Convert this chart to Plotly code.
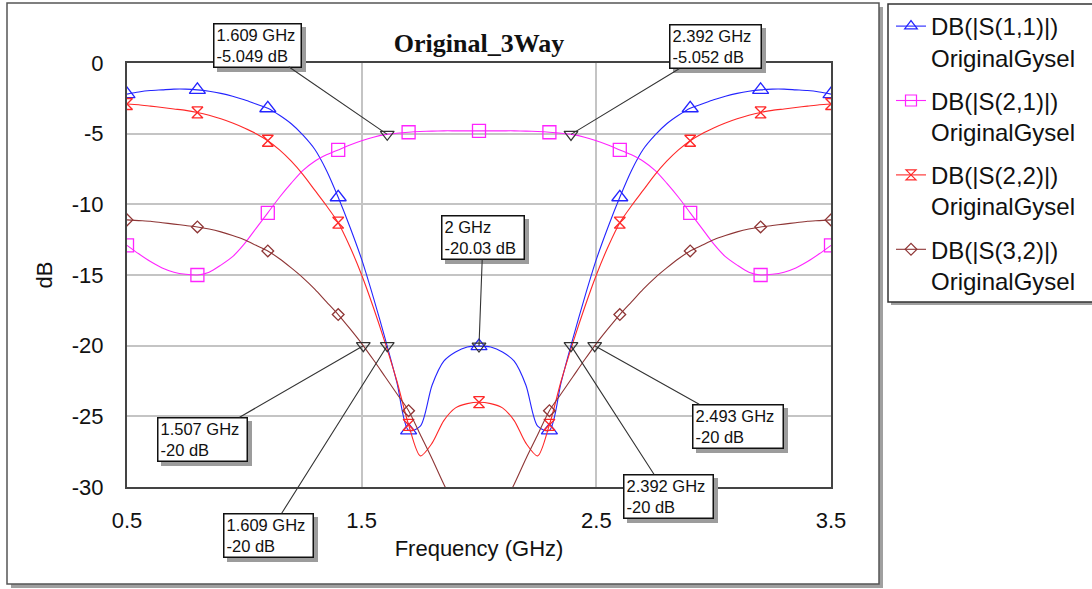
import plotly.graph_objects as go

# ---------------- data ----------------
freq = [0.5, 0.55, 0.6, 0.65, 0.7, 0.75, 0.8, 0.85, 0.9, 0.95,
        1.0, 1.05, 1.1, 1.15, 1.2, 1.25, 1.3, 1.35, 1.4, 1.45,
        1.5, 1.55, 1.6, 1.65, 1.7, 1.75, 1.8, 1.85, 1.9, 1.95,
        2.0, 2.05, 2.1, 2.15, 2.2, 2.25, 2.3, 2.35, 2.4, 2.45,
        2.5, 2.55, 2.6, 2.65, 2.7, 2.75, 2.8, 2.85, 2.9, 2.95,
        3.0, 3.05, 3.1, 3.15, 3.2, 3.25, 3.3, 3.35, 3.4, 3.45, 3.5]

s11_db = [-2.2, -2.05, -1.95, -1.9, -1.85, -1.85, -1.9, -2.0, -2.15, -2.35,
          -2.6, -2.9, -3.2, -3.7, -4.3, -5.1, -6.1, -7.6, -9.5, -11.6,
          -13.9, -16.6, -19.5, -22.6, -26.0, -25.7, -22.8, -21.1, -20.45, -20.1,
          -20.03, -20.1, -20.45, -21.1, -22.8, -25.7, -26.0, -22.6, -19.5, -16.6,
          -13.9, -11.6, -9.5, -7.6, -6.1, -5.1, -4.3, -3.7, -3.2, -2.9,
          -2.6, -2.35, -2.15, -2.0, -1.9, -1.85, -1.85, -1.9, -1.95, -2.05, -2.2]

s21_db = [-12.9, -13.5, -14.05, -14.5, -14.8, -14.95, -15.0, -14.8, -14.3, -13.7,
          -12.8, -11.7, -10.6, -9.5, -8.5, -7.6, -6.95, -6.5, -6.15, -5.8,
          -5.5, -5.25, -5.07, -4.97, -4.9, -4.85, -4.82, -4.8, -4.8, -4.8,
          -4.8, -4.8, -4.8, -4.8, -4.82, -4.85, -4.9, -4.97, -5.07, -5.25,
          -5.5, -5.8, -6.15, -6.5, -6.95, -7.6, -8.5, -9.5, -10.6, -11.7,
          -12.8, -13.7, -14.3, -14.8, -15.0, -14.95, -14.8, -14.5, -14.05, -13.5, -12.9]

s22_db = [-2.9, -2.95, -3.05, -3.15, -3.25, -3.35, -3.5, -3.7, -3.95, -4.25,
          -4.6, -5.0, -5.5, -6.15, -6.95, -7.9, -9.0, -10.1, -11.3, -13.0,
          -15.0, -17.3, -19.8, -22.5, -25.6, -27.8, -26.9, -25.3, -24.4, -24.1,
          -24.0, -24.1, -24.4, -25.3, -26.9, -27.8, -25.6, -22.5, -19.8, -17.3,
          -15.0, -13.0, -11.3, -10.1, -9.0, -7.9, -6.95, -6.15, -5.5, -5.0,
          -4.6, -4.25, -3.95, -3.7, -3.5, -3.35, -3.25, -3.15, -3.05, -2.95, -2.9]

s32_db = [-11.1, -11.15, -11.2, -11.3, -11.4, -11.5, -11.6, -11.75, -11.95, -12.2,
          -12.5, -12.9, -13.3, -13.85, -14.5, -15.2, -16.0, -16.9, -17.8, -18.8,
          -19.85, -21.0, -22.2, -23.4, -24.6, -26.3, -28.0, -29.8, -31.4, -32.5,
          -33.0, -32.5, -31.4, -29.8, -28.0, -26.3, -24.6, -23.4, -22.2, -21.0,
          -19.85, -18.8, -17.8, -16.9, -16.0, -15.2, -14.5, -13.85, -13.3, -12.9,
          -12.5, -12.2, -11.95, -11.75, -11.6, -11.5, -11.4, -11.3, -11.2, -11.15, -11.1]

series_names = ["DB(|S(1,1)|)<br>OriginalGysel", "DB(|S(2,1)|)<br>OriginalGysel",
                "DB(|S(2,2)|)<br>OriginalGysel", "DB(|S(3,2)|)<br>OriginalGysel"]

# marker read-outs
mk_freq = [1.609, 2.392, 2.0, 1.507, 1.609, 2.392, 2.493]
mk_db = [-5.049, -5.052, -20.03, -20, -20, -20, -20]
mk_text = ["1.609 GHz<br>-5.049 dB", "2.392 GHz<br>-5.052 dB", "2 GHz<br>-20.03 dB",
           "1.507 GHz<br>-20 dB", "1.609 GHz<br>-20 dB", "2.392 GHz<br>-20 dB",
           "2.493 GHz<br>-20 dB"]

x_ticks = [0.5, 1.5, 2.5, 3.5]
x_tick_labels = ["0.5", "1.5", "2.5", "3.5"]
y_ticks = [0, -5, -10, -15, -20, -25, -30]
y_tick_labels = ["0", "-5", "-10", "-15", "-20", "-25", "-30"]

# ---------------- layout geometry (pixels) ----------------
W, H = 1092, 589
PL, PR, PT, PB = 127, 831, 63, 487


def px(xp):
    return (xp - PL) / (PR - PL)


def py(yp):
    return (PB - yp) / (PB - PT)


SANS = "Liberation Sans, Arial, sans-serif"
SERIF = "Liberation Serif, Times New Roman, serif"

styles = [
    dict(color="#2424ff", symbol="triangle-up-open", size=14, lsize=11),
    dict(color="#ff24ff", symbol="square-open", size=13, lsize=11),
    dict(color="#ff2828", symbol="hourglass-open", size=11, lsize=10),
    dict(color="#8e3535", symbol="diamond-open", size=9, lsize=9),
]
values = [s11_db, s21_db, s22_db, s32_db]
STEP = 6  # symbols every 0.3 GHz

fig = go.Figure()
for i, (vals, name, st) in enumerate(zip(values, series_names, styles)):
    grp = f"g{i}"
    fig.add_trace(go.Scatter(
        x=freq, y=vals, mode="lines", showlegend=False, legendgroup=grp,
        line=dict(color=st["color"], width=1.1, shape="spline", smoothing=0.8),
        hoverinfo="x+y",
    ))
    fig.add_trace(go.Scatter(
        x=freq[::STEP], y=vals[::STEP], mode="markers", showlegend=False, legendgroup=grp,
        marker=dict(symbol=st["symbol"], size=st["size"], color=st["color"],
                    line=dict(color=st["color"], width=1.3)),
        hoverinfo="x+y",
    ))
    # legend entry
    fig.add_trace(go.Scatter(
        x=[None], y=[None], mode="lines+markers", name=name, legendgroup=grp,
        line=dict(color=st["color"], width=1.1),
        marker=dict(symbol=st["symbol"], size=st["lsize"], color=st["color"],
                    line=dict(color=st["color"], width=1.2)),
    ))

fig.add_trace(go.Scatter(
    x=mk_freq, y=mk_db, mode="markers", showlegend=False,
    marker=dict(symbol="triangle-down-open", size=12, color="#333333",
                line=dict(color="#333333", width=1.2)),
    hoverinfo="skip",
))

# annotation box centres and inner sizes (pixels) for each read-out
box_cx = [257, 715, 483, 202, 268, 668, 738]
box_cy = [45, 47, 238, 439, 535, 496, 426]
box_w = [82, 86, 77, 84, 84, 84, 85]
BOX_H = 38

annotations = []
for fx, dbv, txt, bx, by, bw in zip(mk_freq, mk_db, mk_text, box_cx, box_cy, box_w):
    ptx = PL + (fx - 0.5) / 3.0 * (PR - PL)
    pty = PT + (-dbv) / 30.0 * (PB - PT)
    ax, ay = bx - ptx, by - pty
    common = dict(x=fx, y=dbv, xref="x", yref="y", align="left", valign="middle",
                  showarrow=True, arrowhead=0, ax=ax, ay=ay, borderpad=2,
                  borderwidth=1.5, width=bw, height=BOX_H)
    # drop shadow (empty box)
    annotations.append(dict(common, text=" ", font=dict(family=SANS, size=16.5, color="#9c9c9c"),
                            bgcolor="#9c9c9c", bordercolor="#9c9c9c",
                            arrowcolor="rgba(0,0,0,0)", xshift=4, yshift=-4))
    annotations.append(dict(common, text=txt, font=dict(family=SANS, size=16.5, color="#111111"),
                            bgcolor="white", bordercolor="#111111",
                            arrowcolor="#333333", arrowwidth=1.1))

shapes = [
    # chart frame shadow + frame
    dict(type="rect", xref="paper", yref="paper", layer="below",
         x0=px(11), x1=px(883), y0=py(588), y1=py(7),
         fillcolor="#a0a0a0", line=dict(width=0)),
    dict(type="rect", xref="paper", yref="paper", layer="below",
         x0=px(7), x1=px(879), y0=py(584), y1=py(3),
         fillcolor="white", line=dict(color="#555555", width=1.5)),
    # legend box shadow + box
    dict(type="rect", xref="paper", yref="paper", layer="below",
         x0=px(891), x1=px(1110), y0=py(305), y1=py(7),
         fillcolor="#a0a0a0", line=dict(width=0)),
    dict(type="rect", xref="paper", yref="paper", layer="below",
         x0=px(888), x1=px(1110), y0=py(302), y1=py(4),
         fillcolor="white", line=dict(color="#333333", width=1.5)),
]

fig.update_layout(
    width=W, height=H,
    margin=dict(l=PL, r=W - PR, t=PT, b=H - PB, autoexpand=False),
    paper_bgcolor="white", plot_bgcolor="white",
    title=dict(text="Original_3Way", x=0.5, xref="paper", xanchor="center",
               y=1 - 43 / H, yref="container", yanchor="middle",
               font=dict(family=SERIF, size=26, color="#111111", weight="bold")),
    xaxis=dict(range=[0.5, 3.5], tickvals=x_ticks, ticktext=x_tick_labels,
               showgrid=True, gridcolor="#c4c4c4", gridwidth=1.5,
               showline=True, mirror=True, linecolor="#444444", linewidth=2,
               zeroline=False, ticks="", ticklabelstandoff=13,
               tickfont=dict(family=SANS, size=22, color="#111111"),
               title=dict(text="Frequency (GHz)", standoff=8,
                          font=dict(family=SANS, size=22, color="#111111"))),
    yaxis=dict(range=[-30, 0], tickvals=y_ticks, ticktext=y_tick_labels,
               showgrid=True, gridcolor="#c4c4c4", gridwidth=1.5,
               showline=True, mirror=True, linecolor="#444444", linewidth=2,
               zeroline=False, ticks="", ticklabelstandoff=17,
               tickfont=dict(family=SANS, size=22, color="#111111"),
               title=dict(text="dB", standoff=13,
                          font=dict(family=SANS, size=22, color="#111111"))),
    legend=dict(x=(891) / W, xanchor="left", xref="container",
                y=1 - 4 / H, yanchor="top", yref="container",
                maxheight=0.95,
                bgcolor="rgba(0,0,0,0)", borderwidth=0,
                font=dict(family=SANS, size=24, color="#111111"),
                valign="top", tracegroupgap=9, itemwidth=30),
    shapes=shapes,
    annotations=annotations,
    showlegend=True,
)

fig.write_html("out.html", config={"displayModeBar": False},
               post_script="document.body.style.margin='0px';")
